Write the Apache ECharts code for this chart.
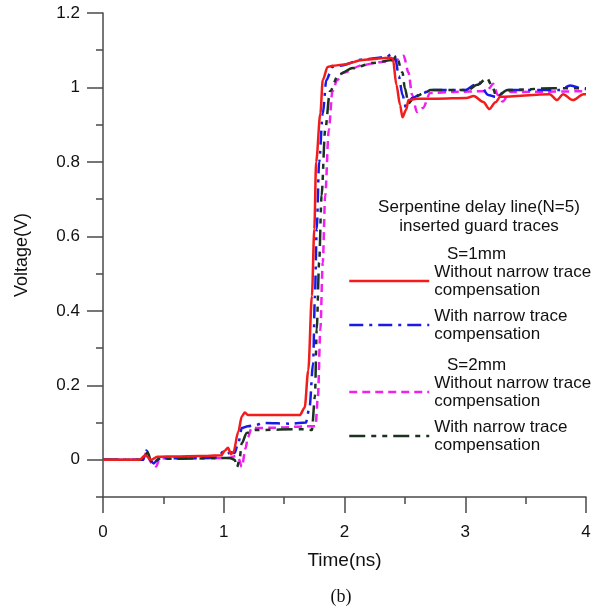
<!DOCTYPE html>
<html>
<head>
<meta charset="utf-8">
<script src="https://cdn.jsdelivr.net/npm/echarts@6/dist/echarts.min.js"></script>
<style>
html,body{margin:0;padding:0;background:#fff;}
#chart{width:613px;height:610px;}
</style>
</head>
<body>
<div id="chart"></div>
<script>
// ---- data (time in ns, voltage in V) ----
var xTickValues = [0, 1, 2, 3, 4];
var yTickValues = [0, 0.2, 0.4, 0.6, 0.8, 1, 1.2];
var yMinorTickValues = [-0.1, 0.1, 0.3, 0.5, 0.7, 0.9, 1.1];

var seriesNames = [
  'S1 without',
  'S1 with',
  'S2 without',
  'S2 with'
];
var legendLabels = {
  'S1 without': 'Without narrow trace\ncompensation',
  'S1 with': 'With narrow trace\ncompensation',
  'S2 without': 'Without narrow trace\ncompensation',
  'S2 with': 'With narrow trace\ncompensation'
};

var s1Without = [[0,0],[0.3,0],[0.35,0.012],[0.4,0.0],[0.45,0.008],[0.6,0.009],[0.8,0.01],[0.98,0.012],[1.01,0.025],[1.035,0.032],[1.06,0.015],[1.08,0.02],[1.12,0.075],[1.15,0.117],[1.175,0.127],[1.2,0.12],[1.4,0.12],[1.63,0.12],[1.67,0.14],[1.70,0.24],[1.73,0.44],[1.75,0.62],[1.765,0.80],[1.80,0.93],[1.82,1.02],[1.86,1.055],[1.9,1.058],[2.0,1.062],[2.15,1.074],[2.38,1.08],[2.40,1.078],[2.43,1.007],[2.46,0.953],[2.48,0.92],[2.51,0.94],[2.53,0.966],[2.6,0.97],[2.77,0.97],[3.01,0.972],[3.07,0.977],[3.15,0.961],[3.2,0.942],[3.25,0.96],[3.29,0.975],[3.70,0.982],[3.76,0.966],[3.81,0.982],[3.89,0.966],[3.98,0.982],[4.0,0.982]];

var s1With = [[0,0],[0.33,0],[0.36,0.025],[0.39,0.0],[0.42,-0.01],[0.45,0.0],[0.5,0.004],[0.7,0.004],[0.95,0.006],[0.995,0.022],[1.02,0.015],[1.06,0.02],[1.09,0.018],[1.12,0.045],[1.15,0.085],[1.2,0.09],[1.26,0.093],[1.33,0.099],[1.56,0.097],[1.68,0.1],[1.71,0.14],[1.74,0.26],[1.755,0.44],[1.77,0.62],[1.79,0.80],[1.82,0.93],[1.85,1.02],[1.90,1.055],[1.96,1.058],[2.15,1.075],[2.35,1.082],[2.39,1.09],[2.42,1.08],[2.45,1.03],[2.48,0.98],[2.51,0.945],[2.56,0.972],[2.65,0.985],[2.71,0.993],[3.0,0.993],[3.08,1.007],[3.11,1.015],[3.19,0.98],[3.25,0.975],[3.35,0.993],[3.78,0.993],[3.87,1.005],[3.98,0.996],[4.0,0.996]];

var s2Without = [[0,0],[0.33,0],[0.36,0.02],[0.4,-0.008],[0.44,-0.018],[0.47,0.004],[0.6,0.004],[0.9,0.004],[1.05,0.005],[1.1,0.01],[1.12,0.005],[1.15,-0.019],[1.18,0.03],[1.2,0.06],[1.23,0.085],[1.42,0.086],[1.70,0.09],[1.76,0.09],[1.78,0.17],[1.80,0.35],[1.82,0.53],[1.84,0.71],[1.87,0.886],[1.90,0.99],[1.94,1.02],[1.99,1.04],[2.15,1.06],[2.29,1.068],[2.43,1.074],[2.49,1.085],[2.53,1.04],[2.56,0.98],[2.60,0.934],[2.65,0.945],[2.71,0.985],[2.9,0.988],[3.18,0.99],[3.2,0.998],[3.23,1.01],[3.27,0.98],[3.31,0.962],[3.37,0.988],[4.0,0.99]];

var s2With = [[0,0],[0.33,0],[0.37,0.02],[0.4,-0.005],[0.43,-0.01],[0.46,0.003],[0.6,0.003],[0.9,0.004],[1.05,0.005],[1.09,0.0],[1.11,-0.02],[1.13,0.0],[1.15,0.045],[1.19,0.072],[1.26,0.08],[1.67,0.082],[1.73,0.08],[1.755,0.17],[1.77,0.35],[1.79,0.53],[1.81,0.71],[1.84,0.886],[1.88,0.99],[1.95,1.035],[2.07,1.052],[2.24,1.066],[2.40,1.074],[2.43,1.085],[2.48,1.04],[2.50,0.998],[2.53,0.958],[2.58,0.975],[2.68,0.988],[2.71,0.993],[3.02,0.993],[3.10,1.007],[3.18,1.025],[3.22,1.005],[3.26,0.975],[3.35,0.993],[3.73,0.998],[4.0,0.998]];

// ---- chart ----
var axisColor = '#4a4a4a';
var font = 'Liberation Sans, Arial, sans-serif';
var chart = echarts.init(document.getElementById('chart'), null, {renderer: 'canvas'});

function lineSeries(name, data, color, dash, z) {
  return {
    name: name, type: 'line', data: data, showSymbol: false, symbol: 'none',
    smooth: 0.3, smoothMonotone: 'x', z: z,
    lineStyle: {color: color, width: 2.5, type: dash},
    itemStyle: {color: color},
    xAxisIndex: 0, yAxisIndex: 0
  };
}

var legendText = {fontFamily: font, fontSize: 17, lineHeight: 18, color: '#111'};
function legendFmt(n) { return legendLabels[n]; }
var legendItemStyle = {opacity: 0, borderWidth: 0};
var legendLineStyle = {width: 2.5};

chart.setOption({
  animation: false,
  backgroundColor: '#fff',
  grid: {left: 103, right: 27, top: 13, bottom: 113, containLabel: false},
  xAxis: [{
    type: 'value', min: 0, max: 4, interval: 1,
    name: 'Time(ns)', nameLocation: 'middle', nameGap: 54,
    nameTextStyle: {fontFamily: font, fontSize: 19, color: '#111'},
    axisLine: {onZero: false, lineStyle: {color: axisColor, width: 1.5}},
    axisTick: {show: true, length: 16, lineStyle: {color: axisColor, width: 1.5}},
    minorTick: {show: true, splitNumber: 2, length: 7, lineStyle: {color: axisColor, width: 1.5}},
    axisLabel: {fontFamily: font, fontSize: 17, color: '#111', margin: 27},
    splitLine: {show: false}, minorSplitLine: {show: false}
  }],
  yAxis: [{
    type: 'value', min: -0.1, max: 1.2, interval: 0.1,
    name: 'Voltage(V)', nameLocation: 'middle', nameGap: 72,
    nameTextStyle: {fontFamily: font, fontSize: 18, color: '#111'},
    axisLine: {onZero: false, lineStyle: {color: axisColor, width: 1.5}},
    axisTick: {show: true, length: 16, customValues: yTickValues, lineStyle: {color: axisColor, width: 1.5}},
    axisLabel: {fontFamily: font, fontSize: 17, color: '#111', margin: 23, customValues: yTickValues},
    splitLine: {show: false}
  }, {
    type: 'value', min: -0.1, max: 1.2, interval: 0.1, position: 'left',
    axisLine: {show: false, onZero: false},
    axisTick: {show: true, length: 7, customValues: yMinorTickValues, lineStyle: {color: axisColor, width: 1.5}},
    axisLabel: {show: false},
    splitLine: {show: false}
  }],
  title: [{
    text: 'Serpentine delay line(N=5)\ninserted guard traces',
    left: 474, top: 193, textAlign: 'center',
    textStyle: {fontFamily: font, fontSize: 17, lineHeight: 19, fontWeight: 'normal', color: '#111'}
  }, {
    text: 'S=1mm', left: 442, top: 241,
    textStyle: {fontFamily: font, fontSize: 17, fontWeight: 'normal', color: '#111'}
  }, {
    text: 'S=2mm', left: 442, top: 352,
    textStyle: {fontFamily: font, fontSize: 17, fontWeight: 'normal', color: '#111'}
  }],
  legend: [{
    data: [seriesNames[0], seriesNames[1]],
    orient: 'vertical', left: 348, top: 263, padding: 0, itemGap: 8,
    itemWidth: 80, itemHeight: 14, selectedMode: false,
    itemStyle: legendItemStyle, lineStyle: legendLineStyle,
    formatter: legendFmt, textStyle: legendText
  }, {
    data: [seriesNames[2], seriesNames[3]],
    orient: 'vertical', left: 348, top: 374, padding: 0, itemGap: 8,
    itemWidth: 80, itemHeight: 14, selectedMode: false,
    itemStyle: legendItemStyle, lineStyle: legendLineStyle,
    formatter: legendFmt, textStyle: legendText
  }],
  graphic: [{
    type: 'text', x: 341, y: 597,
    style: {text: '(b)', fontFamily: 'Liberation Serif, Times New Roman, serif', fontSize: 18,
      fill: '#111', textAlign: 'center', textVerticalAlign: 'middle'}
  }],
  series: [
    lineSeries(seriesNames[0], s1Without, '#f21c1c', 'solid', 5),
    lineSeries(seriesNames[1], s1With, '#1a1ae6', [14, 6, 3, 6], 4),
    lineSeries(seriesNames[2], s2Without, '#f020f0', [8, 5], 3),
    lineSeries(seriesNames[3], s2With, '#1c3322', [16, 6, 5, 6, 5, 6], 4)
  ]
});
</script>
</body>
</html>
